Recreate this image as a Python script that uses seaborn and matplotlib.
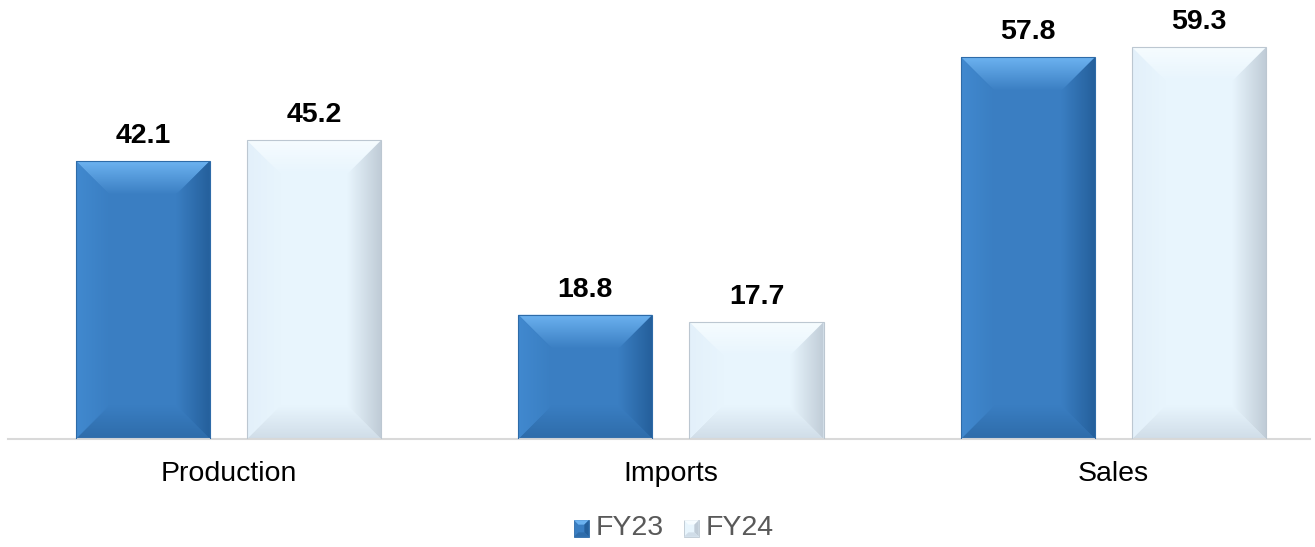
import numpy as np
import pandas as pd
import matplotlib
matplotlib.use("Agg")
import matplotlib.pyplot as plt
from matplotlib.patches import Polygon, Patch, Rectangle
from matplotlib.colors import to_rgb
import seaborn as sns

# chart data
categories = ["Production", "Imports", "Sales"]
years = ["FY23", "FY24"]
fy23 = [42.1, 18.8, 57.8]
fy24 = [45.2, 17.7, 59.3]

df = pd.DataFrame({
    "category": categories * 2,
    "year": ["FY23"] * 3 + ["FY24"] * 3,
    "value": fy23 + fy24,
})

# bevel shades per series (outer edge colour of each facet, fading to face)
shades = {
    "FY23": dict(face="#3A7EC2", top="#6CB2F0", left="#4189CF", right="#25609C",
                 bottom="#2E6CAA", edge="#2E6BA8"),
    "FY24": dict(face="#E8F5FD", top="#F6FCFF", left="#E3F0FA", right="#C0CCD7",
                 bottom="#D0DDE8", edge="#BCC7D1"),
}

sns.set_style("white")
plt.rcParams["font.family"] = ["Liberation Sans", "DejaVu Sans"]
FS = 20.5

fig = plt.figure(figsize=(13.15, 5.47), dpi=100)
ax = fig.add_axes((8 / 1315, 108 / 547, 1302 / 1315, 439 / 547))

sns.barplot(data=df, x="category", y="value", hue="year", hue_order=years,
            order=categories, palette=[shades[y]["face"] for y in years],
            width=0.773, gap=0.216, legend=False, ax=ax, saturation=1)

XLIM = (-0.498, 2.444)
YLIM = (0, 66.46)

# bevel size in px -> data units
px_x = 1302 / (XLIM[1] - XLIM[0])
px_y = 439 / (YLIM[1] - YLIM[0])
bev = 34


def ramp(c_out, c_in, n=48):
    a, b = np.array(to_rgb(c_out)), np.array(to_rgb(c_in))
    t = np.linspace(0, 1, n)[:, None]
    return a * (1 - t) + b * t


def facet(pts, grad, extent):
    poly = Polygon(pts, closed=True, facecolor="none", edgecolor="none", transform=ax.transData)
    ax.add_patch(poly)
    im = ax.imshow(grad, extent=extent, aspect="auto", interpolation="bilinear",
                   zorder=2.5, origin="lower")
    im.set_clip_path(poly)


for year, cont in zip(years, ax.containers):
    s = shades[year]
    vals = df[df.year == year]["value"]
    for bar, val in zip(cont, vals):
        x0, y0 = bar.get_x(), bar.get_y()
        x1, y1 = x0 + bar.get_width(), y0 + bar.get_height()
        bx, by = bev / px_x, bev / px_y
        bar.set_edgecolor("none")
        r_top = ramp(s["top"], s["face"])[::-1]          # bottom->top rows
        r_bot = ramp(s["bottom"], s["face"])
        r_left = ramp(s["left"], s["face"])
        r_right = ramp(s["right"], s["face"])[::-1]
        facet([(x0, y1), (x1, y1), (x1 - bx, y1 - by), (x0 + bx, y1 - by)],
              r_top[:, None, :], (x0, x1, y1 - by, y1))
        facet([(x0, y0), (x1, y0), (x1 - bx, y0 + by), (x0 + bx, y0 + by)],
              r_bot[:, None, :], (x0, x1, y0, y0 + by))
        facet([(x0, y0), (x0, y1), (x0 + bx, y1 - by), (x0 + bx, y0 + by)],
              r_left[None, :, :], (x0, x0 + bx, y0, y1))
        facet([(x1, y0), (x1, y1), (x1 - bx, y1 - by), (x1 - bx, y0 + by)],
              r_right[None, :, :], (x1 - bx, x1, y0, y1))
        ax.add_patch(Rectangle((x0, y0), x1 - x0, y1 - y0, fill=False,
                               edgecolor=s["edge"], linewidth=0.8, zorder=2.6))
        ax.annotate(f"{val:.1f}", ((x0 + x1) / 2, y1), xytext=(0, 13),
                    textcoords="offset points", ha="center", va="baseline",
                    fontsize=FS, fontweight="bold", color="black")

ax.set_xlim(*XLIM)
ax.set_ylim(*YLIM)

sns.despine(ax=ax, left=True, top=True, right=True)
ax.spines["bottom"].set_color("#D9D9D9")
ax.spines["bottom"].set_linewidth(1.5)
ax.set_yticks([])
ax.set_xlabel("")
ax.set_ylabel("")
ax.tick_params(axis="x", length=0, pad=16, labelsize=FS, labelcolor="black")


class BevelHandler:
    def legend_artist(self, legend, orig_handle, fontsize, handlebox):
        s = shades[orig_handle.get_label()]
        w, h = handlebox.width, handlebox.height
        x0, y0 = handlebox.xdescent, handlebox.ydescent
        b = w * 0.3
        tr = handlebox.get_transform()
        base = Rectangle((x0, y0), w, h, facecolor=s["face"], edgecolor=s["edge"],
                         linewidth=0.6, transform=tr)
        handlebox.add_artist(base)
        for pts, c in [
            ([(x0, y0 + h), (x0 + w, y0 + h), (x0 + w - b, y0 + h - b), (x0 + b, y0 + h - b)], s["top"]),
            ([(x0 + w, y0), (x0 + w, y0 + h), (x0 + w - b, y0 + h - b), (x0 + w - b, y0 + b)], s["right"]),
            ([(x0, y0), (x0 + w, y0), (x0 + w - b, y0 + b), (x0 + b, y0 + b)], s["bottom"]),
        ]:
            handlebox.add_artist(Polygon(pts, closed=True, facecolor=c, edgecolor="none", transform=tr))
        return base


handles = [Patch(facecolor=shades[y]["face"], label=y) for y in years]
fig.legend(handles=handles, loc="center", bbox_to_anchor=(674 / 1315, 1 - 528 / 547),
           ncol=2, frameon=False, fontsize=FS, labelcolor="#595959",
           handlelength=0.52, handleheight=0.52, handletextpad=0.25, columnspacing=0.7,
           handler_map={Patch: BevelHandler()})

fig.savefig("out.png", dpi=100)
